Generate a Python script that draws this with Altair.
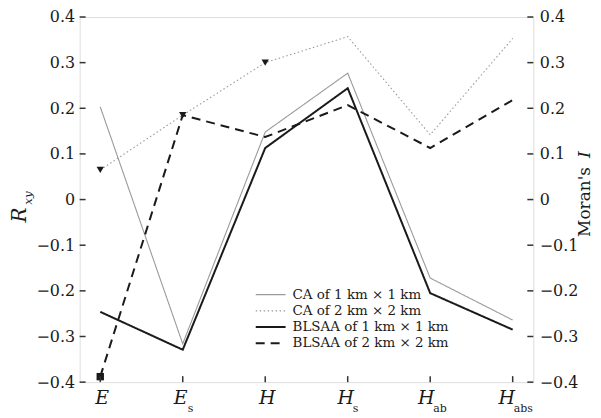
import altair as alt
import pandas as pd

categories = ["E", "Es", "H", "Hs", "Hab", "Habs"]
main_letters = ["E", "E", "H", "H", "H", "H"]
subscripts = ["", "s", "", "s", "ab", "abs"]

series_names = ["CA of 1 km × 1 km", "CA of 2 km × 2 km",
                "BLSAA of 1 km × 1 km", "BLSAA of 2 km × 2 km"]
ca_1km = [0.203, -0.316, 0.148, 0.277, -0.172, -0.264]
ca_2km = [0.065, 0.185, 0.300, 0.357, 0.142, 0.353]
blsaa_1km = [-0.246, -0.329, 0.113, 0.244, -0.205, -0.285]
blsaa_2km = [-0.388, 0.185, 0.137, 0.207, 0.113, 0.218]

marker_cats = ["E", "Es", "H", "E"]
marker_vals = [0.065, 0.185, 0.300, -0.388]
marker_shapes = ["triangle-down", "triangle-down", "triangle-down", "square"]

y_ticks = [-0.4, -0.3, -0.2, -0.1, 0.0, 0.1, 0.2, 0.3, 0.4]

W, H = 456, 367
FONT = "DejaVu Serif"
INK = "#1a1a1a"

rows = []
for name, vals in zip(series_names, [ca_1km, ca_2km, blsaa_1km, blsaa_2km]):
    for c, v in zip(categories, vals):
        rows.append({"series": name, "cat": c, "value": v})
lines_df = pd.DataFrame(rows)
markers_df = pd.DataFrame({"cat": marker_cats, "value": marker_vals, "shape": marker_shapes})
ticks_df = pd.DataFrame({"value": y_ticks})
cats_df = pd.DataFrame({"cat": categories, "main": main_letters, "sub": subscripts})
cats_df["off"] = [-2 * len(s) + (2 if s == "" else 0) for s in subscripts]
cats_df["suboff"] = cats_df["off"] + 7
legend_df = pd.DataFrame({"series": series_names, "row": list(range(len(series_names)))})

ydom = alt.Scale(domain=[-0.4, 0.4], nice=False, zero=False)
xsc = alt.Scale(type="point", domain=categories, padding=0.25)
x_enc = alt.X("cat:N", scale=xsc, axis=None)

color_enc = alt.Color("series:N", scale=alt.Scale(domain=series_names,
                      range=["#9a9a9a", "#9a9a9a", "#1a1a1a", "#1a1a1a"]), legend=None)
dash_enc = alt.StrokeDash("series:N", scale=alt.Scale(domain=series_names,
                          range=[[1, 0], [1.5, 2.5], [1, 0], [9, 6]]), legend=None)
width_enc = alt.condition(
    alt.FieldOneOfPredicate(field="series", oneOf=series_names[2:]),
    alt.value(2), alt.value(1.1))

label_expr = "datum.value == 0 ? '0' : format(datum.value, '.1f')"

lines = alt.Chart(lines_df).mark_line().encode(
    x=x_enc,
    y=alt.Y("value:Q", scale=ydom,
            axis=alt.Axis(values=y_ticks, labelExpr=label_expr, ticks=False,
                          domain=False, grid=False, title=None, orient="left",
                          labelFont=FONT, labelFontSize=16, labelColor=INK,
                          labelPadding=5)),
    color=color_enc, strokeDash=dash_enc, strokeWidth=width_enc,
)

markers = alt.Chart(markers_df).mark_point(filled=True, size=55, color=INK, opacity=1).encode(
    x=x_enc,
    y=alt.Y("value:Q", scale=ydom, axis=None),
    shape=alt.Shape("shape:N", scale=None),
)

# legend (inside plot, lower middle)
row_scale = alt.Scale(domain=[0, 3], range=[279, 328])
leg_lines = alt.Chart(legend_df).mark_rule().encode(
    y=alt.Y("row:Q", scale=row_scale, axis=None),
    x=alt.value(177), x2=alt.value(207),
    color=color_enc, strokeDash=dash_enc, strokeWidth=width_enc,
)
leg_text = alt.Chart(legend_df).mark_text(font=FONT, fontSize=13.5, color=INK,
                                          align="left", baseline="middle").encode(
    y=alt.Y("row:Q", scale=row_scale, axis=None),
    x=alt.value(214), text="series:N",
)

left_ticks = alt.Chart(ticks_df).mark_rule(color="#333", strokeWidth=1.5).encode(
    y=alt.Y("value:Q", scale=ydom, axis=None),
    x=alt.value(0), x2=alt.value(6),
)
right_ticks = alt.Chart(ticks_df).mark_rule(color="#333", strokeWidth=1.5).encode(
    y=alt.Y("value:Q", scale=ydom,
            axis=alt.Axis(values=y_ticks, labelExpr=label_expr, ticks=False,
                          domain=False, grid=False, title=None, orient="right",
                          labelFont=FONT, labelFontSize=16, labelColor=INK,
                          labelPadding=6)),
    x=alt.value(W - 6), x2=alt.value(W),
)
bottom_ticks = alt.Chart(cats_df).mark_rule(color="#333", strokeWidth=1.5).encode(
    x=x_enc, y=alt.value(H - 6), y2=alt.value(H),
)

main_text = alt.Chart(cats_df).mark_text(font=FONT, fontSize=19, fontStyle="italic",
                                         color=INK, baseline="middle", align="center").encode(
    x=x_enc, xOffset=alt.XOffset("off:Q", scale=None),
    y=alt.value(H + 16), text="main:N",
)
sub_text = alt.Chart(cats_df).mark_text(font=FONT, fontSize=11, color=INK,
                                        baseline="middle", align="left").encode(
    x=x_enc, xOffset=alt.XOffset("suboff:Q", scale=None),
    y=alt.value(H + 27), text="sub:N",
)

title_df = pd.DataFrame({"t": ["R", "xy", "Moran's", "I"]})
def tmark(idx, **kw):
    return alt.Chart(title_df).transform_filter(
        alt.datum.t == title_df["t"][idx]).mark_text(angle=270, font=FONT, color=INK,
                                                   baseline="middle", **kw).encode(text="t:N")

t_r = tmark(0, fontSize=20, fontStyle="italic", align="center").encode(x=alt.value(-60), y=alt.value(199))
t_xy = tmark(1, fontSize=12, fontStyle="italic", align="center").encode(x=alt.value(-52), y=alt.value(182))
t_mor = tmark(2, fontSize=17, align="left").encode(x=alt.value(W + 52), y=alt.value(221))
t_i = tmark(3, fontSize=17, fontStyle="italic", align="right").encode(x=alt.value(W + 52), y=alt.value(135))

chart = alt.layer(lines, markers, leg_lines, leg_text, left_ticks, right_ticks, bottom_ticks,
                  main_text, sub_text, t_r, t_xy, t_mor, t_i).resolve_scale(
    y="independent"
).properties(
    width=W, height=H,
    autosize=alt.AutoSizeParams(type="none"),
    padding={"left": 72, "top": 8, "right": 60, "bottom": 34},
).configure_view(stroke="#333", strokeWidth=1.6).configure(background="white")

chart.save("out.html", embed_options={"renderer": "svg", "actions": False})
